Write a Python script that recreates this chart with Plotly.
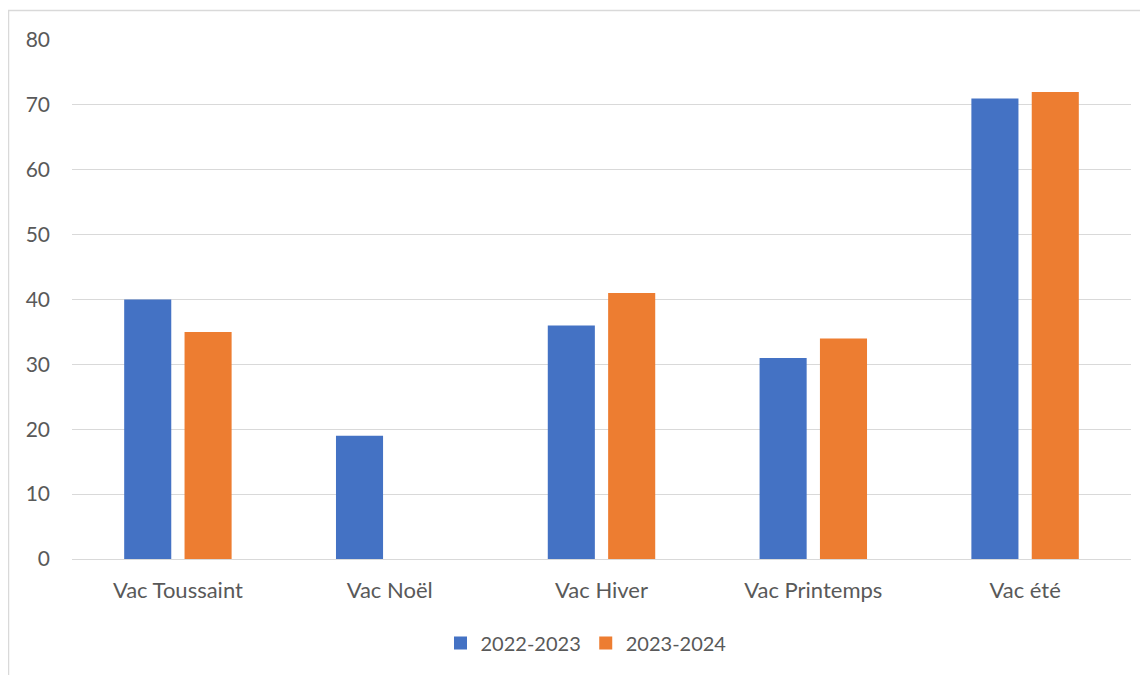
import plotly.graph_objects as go

categories = ["Vac Toussaint", "Vac Noël", "Vac Hiver", "Vac Printemps", "Vac été"]
s2022_2023 = [40, 19, 36, 31, 71]
s2023_2024 = [35, None, 41, 34, 72]
series_names = ["2022-2023", "2023-2024"]
colors = ["#4472C4", "#ED7D31"]
y_ticks = [0, 10, 20, 30, 40, 50, 60, 70, 80]

W, H = 1148, 675
L, R, T, B = 64, 25, 32, 124
pw, ph = W - L - R, H - T - B

font = "Lato, Open Sans, sans-serif"

fig = go.Figure()
for name, vals, col in zip(series_names, [s2022_2023, s2023_2024], colors):
    fig.add_trace(go.Bar(name=name, x=categories, y=vals, marker=dict(color=col, line=dict(width=0)),
                         showlegend=False))
for name, col in zip(series_names, colors):
    fig.add_trace(go.Scatter(name=name, x=[None], y=[None], mode="markers",
                             marker=dict(symbol="square", size=13, color=col), showlegend=True))

def px_x(x):
    return (x - L) / pw

def px_y(y):
    return (H - B - y) / ph

fig.add_shape(type="rect", xref="paper", yref="paper",
              x0=px_x(0.5), x1=px_x(1170), y0=px_y(2.5), y1=px_y(700),
              line=dict(color="#d9d9d9", width=1.5), fillcolor="rgba(0,0,0,0)", layer="below")

fig.update_layout(
    width=W, height=H,
    margin=dict(l=L, r=R, t=T, b=B, pad=0),
    paper_bgcolor="white", plot_bgcolor="white",
    barmode="group", bargap=0.43, bargroupgap=0.22,
    font=dict(family=font, size=21, color="#595959"),
    legend=dict(orientation="h", x=px_x(578), xanchor="center", y=px_y(635), yanchor="middle",
                font=dict(size=20, color="#595959"), traceorder="normal", itemwidth=30),
    xaxis=dict(showgrid=False, showline=False, ticks="", tickfont=dict(size=22),
               ticklabelstandoff=16),
    yaxis=dict(range=[0, 80], tickvals=y_ticks, showgrid=True, gridcolor="#d9d9d9", gridwidth=1.3,
               zeroline=True, zerolinecolor="#d9d9d9", zerolinewidth=1.3, showline=False,
               ticks="", tickfont=dict(size=21), ticklabelstandoff=21),
)

fig.write_html("out.html")
